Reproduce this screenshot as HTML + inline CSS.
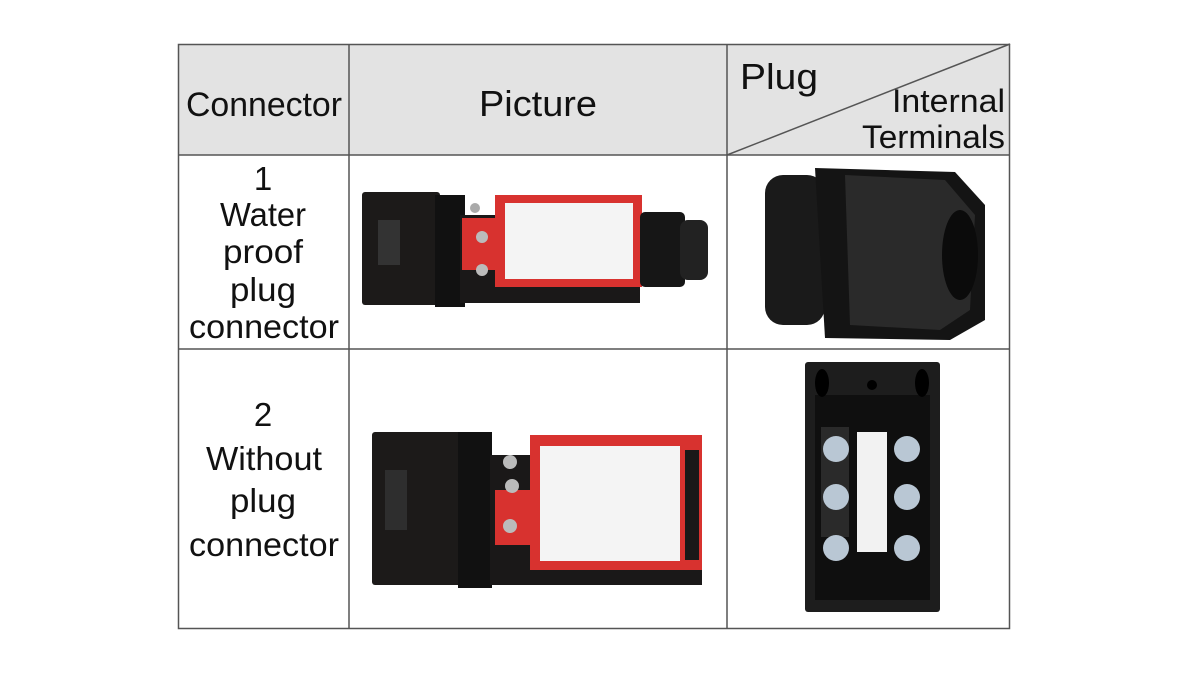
<!DOCTYPE html>
<html><head><meta charset="utf-8"><style>
html,body{margin:0;padding:0;background:#fff;}
svg{display:block;}
text{font-family:"Liberation Sans",sans-serif;fill:#111;}
</style></head><body>
<svg width="1200" height="673" viewBox="0 0 1200 673" xmlns="http://www.w3.org/2000/svg">
<rect x="178" y="44" width="832" height="111" fill="#e3e3e3"/>
<g stroke="#555" stroke-width="1.5" fill="none">
<rect x="178.5" y="44.5" width="831" height="584"/>
<line x1="349" y1="44" x2="349" y2="629"/>
<line x1="727" y1="44" x2="727" y2="629"/>
<line x1="178" y1="155" x2="1010" y2="155"/>
<line x1="178" y1="349" x2="1010" y2="349"/>
<line x1="727" y1="155" x2="1010" y2="44"/>
</g>
<text x="186" y="116" font-size="34" textLength="156" lengthAdjust="spacingAndGlyphs">Connector</text>
<text x="479" y="116" font-size="36" textLength="118" lengthAdjust="spacingAndGlyphs">Picture</text>
<text x="740" y="89" font-size="36" textLength="78" lengthAdjust="spacingAndGlyphs">Plug</text>
<text x="892" y="112" font-size="32" textLength="113" lengthAdjust="spacingAndGlyphs">Internal</text>
<text x="862" y="148" font-size="32" textLength="143" lengthAdjust="spacingAndGlyphs">Terminals</text>
<g font-size="33" text-anchor="middle">
<text x="263" y="190">1</text>
<text x="263" y="226" textLength="86" lengthAdjust="spacingAndGlyphs">Water</text>
<text x="263" y="263" textLength="80" lengthAdjust="spacingAndGlyphs">proof</text>
<text x="263" y="301" textLength="66" lengthAdjust="spacingAndGlyphs">plug</text>
<text x="264" y="338" textLength="150" lengthAdjust="spacingAndGlyphs">connector</text>
<text x="263" y="426">2</text>
<text x="264" y="470" textLength="116" lengthAdjust="spacingAndGlyphs">Without</text>
<text x="263" y="512" textLength="66" lengthAdjust="spacingAndGlyphs">plug</text>
<text x="264" y="556" textLength="150" lengthAdjust="spacingAndGlyphs">connector</text>
</g>
<!-- switch 1 -->
<rect x="362" y="192" width="78" height="113" fill="#1c1a19" rx="3"/>
<rect x="435" y="195" width="30" height="112" fill="#111"/>
<rect x="378" y="220" width="22" height="45" fill="#333"/>
<rect x="460" y="215" width="180" height="88" fill="#1a1818"/>
<rect x="495" y="195" width="147" height="92" fill="#d8322f"/>
<rect x="462" y="218" width="40" height="52" fill="#d8322f"/>
<rect x="505" y="203" width="128" height="76" fill="#f4f4f4"/>
<circle cx="482" cy="237" r="6" fill="#bbb"/><circle cx="482" cy="270" r="6" fill="#bbb"/><circle cx="475" cy="208" r="5" fill="#aaa"/>
<rect x="640" y="212" width="45" height="75" fill="#161616" rx="5"/>
<rect x="680" y="220" width="28" height="60" fill="#222" rx="8"/>
<!-- switch 2 -->
<rect x="372" y="432" width="90" height="153" fill="#1c1a19" rx="3"/>
<rect x="458" y="432" width="34" height="156" fill="#111"/>
<rect x="385" y="470" width="22" height="60" fill="#2e2e2e"/>
<rect x="490" y="455" width="212" height="130" fill="#1a1818"/>
<rect x="530" y="435" width="172" height="135" fill="#d8322f"/>
<rect x="495" y="490" width="40" height="55" fill="#d8322f"/>
<rect x="540" y="446" width="140" height="115" fill="#f4f4f4"/>
<rect x="685" y="450" width="14" height="110" fill="#1a1818"/>
<circle cx="510" cy="462" r="7" fill="#bbb"/><circle cx="512" cy="486" r="7" fill="#bbb"/><circle cx="510" cy="526" r="7" fill="#bbb"/>
<!-- plug gland -->
<rect x="765" y="175" width="60" height="150" fill="#1a1a1a" rx="18"/>
<polygon points="815,168 955,172 985,205 985,320 950,340 825,338" fill="#141414"/>
<polygon points="845,175 945,180 975,215 970,310 940,330 850,325" fill="#2a2a2a"/>
<ellipse cx="960" cy="255" rx="18" ry="45" fill="#0b0b0b"/>
<!-- terminal box -->
<rect x="805" y="362" width="135" height="250" fill="#1d1d1d" rx="3"/>
<rect x="815" y="395" width="115" height="205" fill="#0f0f0f"/>
<rect x="821" y="427" width="28" height="110" fill="#2a2a2a"/>
<rect x="857" y="432" width="30" height="120" fill="#f2f2f2"/>
<g fill="#b9c7d4"><circle cx="836" cy="449" r="13"/><circle cx="836" cy="497" r="13"/><circle cx="836" cy="548" r="13"/><circle cx="907" cy="449" r="13"/><circle cx="907" cy="497" r="13"/><circle cx="907" cy="548" r="13"/></g>
<circle cx="872" cy="385" r="5" fill="#000"/>
<ellipse cx="822" cy="383" rx="7" ry="14" fill="#000"/><ellipse cx="922" cy="383" rx="7" ry="14" fill="#000"/>
</svg>
</body></html>
